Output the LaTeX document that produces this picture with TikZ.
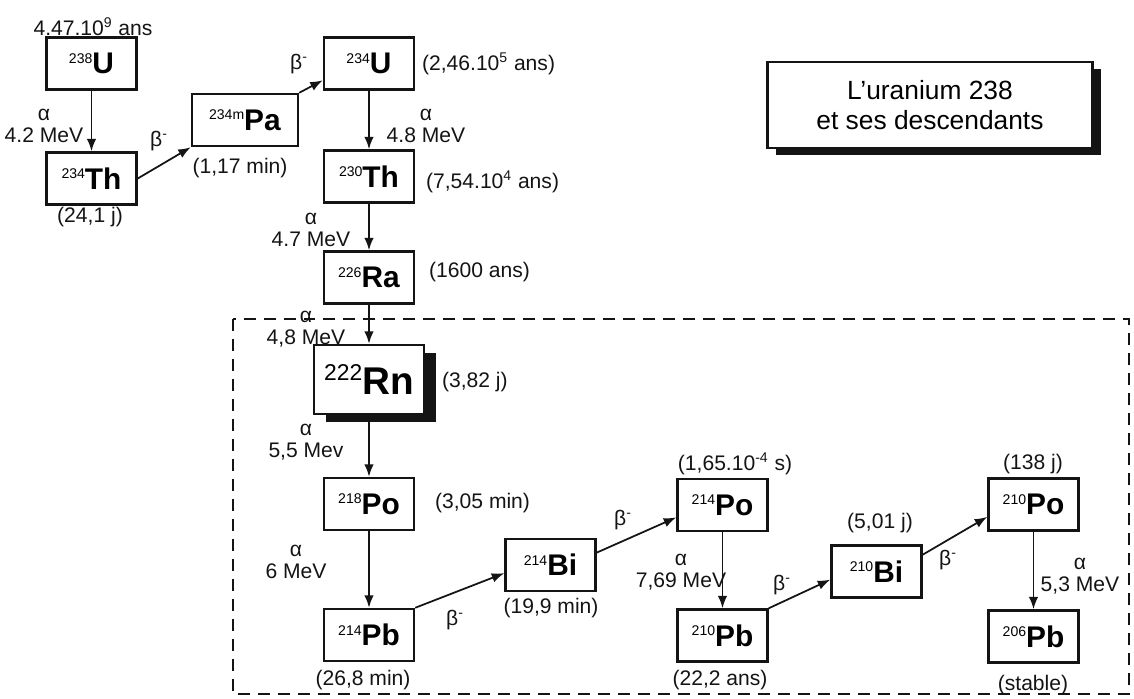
\documentclass[tikz,border=0pt]{standalone}
\usepackage{fontspec}
\setmainfont{Liberation Sans}
\usetikzlibrary{arrows.meta,shadows}
\definecolor{ink}{RGB}{20,20,20}
\tikzset{
  >={Latex[length=2.5mm,width=1.9mm]},
  nuc/.style={draw=ink,line width=1.4pt,fill=white,minimum width=#1,minimum height=10.4mm,
    inner sep=0pt,font=\fontsize{17}{20}\selectfont},
  nuc/.default=18mm,
  decay/.style={->,draw=ink,line width=1pt},
  tag/.style={font=\fontsize{12}{12.5}\selectfont,text=ink,inner sep=1pt,align=center},
  frame/.style={draw=ink,line width=1.4pt,dash pattern=on 2.4mm off 1.6mm},
}
\newcommand{\elem}[3][8]{\raisebox{.35em}{\fontsize{#1}{#1}\selectfont #2}\textbf{#3}}
\newcommand{\bmin}{β\textsuperscript{-}}

\begin{document}
\begin{tikzpicture}[x=0.02cm,y=-0.02cm]
        \useasboundingbox (0,0) rectangle (1134,698);
        % title
        \node[draw=ink,line width=1.2pt,fill=white,minimum width=65mm,minimum height=17.2mm,align=center,
          font=\fontsize{15}{17}\selectfont,
          drop shadow={shadow xshift=1.7mm,shadow yshift=-1.4mm,fill=ink,opacity=1}] (title) at (930,105)
          {L'uranium 238\\et ses descendants};
        % radon family frame
        \draw[frame] (233,319) rectangle (1129,694);
        % nuclides
        \foreach \n/\x/\y/\m/\s in {u238/91.5/63.5/238/U,th234/91.5/178.5/234/Th,u234/369/63.5/234/U,
          th230/369/176.5/230/Th,ra226/369/277.5/226/Ra,po218/369/504/218/Po,pb214/369/635/214/Pb,
          bi214/550.5/565/214/Bi,po214/722.5/505/214/Po,pb210/722.5/635.5/210/Pb,bi210/876.5/571.5/210/Bi,
          po210/1033.5/504.5/210/Po,pb206/1033.5/636.5/206/Pb}
          \node[nuc] (\n) at (\x,\y) {\elem{\m}{\s}};
        \node[nuc=21.2mm] (pa234) at (245,120) {\elem{234m}{Pa}};
        \node[nuc=22mm,minimum height=13.8mm,font=\fontsize{22}{26}\selectfont,
          drop shadow={shadow xshift=2.4mm,shadow yshift=-1.6mm,fill=ink,opacity=1}] (rn222) at (369,379.5)
          {\elem[13]{222}{Rn}};
        % decays
        \foreach \a/\b in {u238/th234,u234/th230,th230/ra226,ra226/rn222,rn222/po218,po218/pb214,
          po214/pb210,po210/pb206}
          \draw[decay] (\a) -- (\b);
        \draw[decay] (th234.east) -- (pa234.south west);
        \draw[decay] (pa234.north east) -- (u234.-160);
        \draw[decay] (pb214.north east) -- (bi214.-170);
        \draw[decay] (bi214.15) -- (po214.-165);
        \draw[decay] (pb210.north east) -- (bi210.-170);
        \draw[decay] (bi210.20) -- (po210.-165);
        % alpha labels
        \node[tag] (al1) at (44,126) {α\\4.2 MeV};
        \node[tag] (al2) at (426,126) {α\\4.8 MeV};
        \node[tag] (al3) at (311,230) {α\\4.7 MeV};
        \node[tag] (al4) at (306,329) {α\\4,8 MeV};
        \node[tag] (al5) at (306,442.5) {α\\5,5 Mev};
        \node[tag] (al6) at (296,561.5) {α\\6 MeV};
        \node[tag] (al7) at (681,572.5) {α\\7,69 MeV};
        \node[tag] (al8) at (1080,576.5) {α\\5,3 MeV};
        % beta labels
        \foreach \x/\y [count=\i] in {159/141,299/64,455/620,623/520,782/585,948/560}
          \node[tag] (be\i) at (\x,\y) {\bmin};
        % half-lives
        \node[tag] (t1) at (93,27) {4.47.10\textsuperscript{9} ans};
        \node[tag] (t2) at (90,217) {(24,1 j)};
        \node[tag] (t3) at (240,168) {(1,17 min)};
        \node[tag,anchor=west] (t4) at (420,64) {(2,46.10\textsuperscript{5} ans)};
        \node[tag,anchor=west] (t5) at (424,182) {(7,54.10\textsuperscript{4} ans)};
        \node[tag,anchor=west] (t6) at (427,272) {(1600 ans)};
        \node[tag,anchor=west] (t7) at (440,382) {(3,82 j)};
        \node[tag,anchor=west] (t8) at (433,503) {(3,05 min)};
        \node[tag] (t9) at (363,680) {(26,8 min)};
        \node[tag] (t10) at (551,608) {(19,9 min)};
        \node[tag] (t11) at (735,464) {(1,65.10\textsuperscript{-4} s)};
        \node[tag] (t12) at (720,680) {(22,2 ans)};
        \node[tag] (t13) at (880,523) {(5,01 j)};
        \node[tag] (t14) at (1033,464) {(138 j)};
        \node[tag] (t15) at (1033,685) {(stable)};
\end{tikzpicture}
\end{document}
